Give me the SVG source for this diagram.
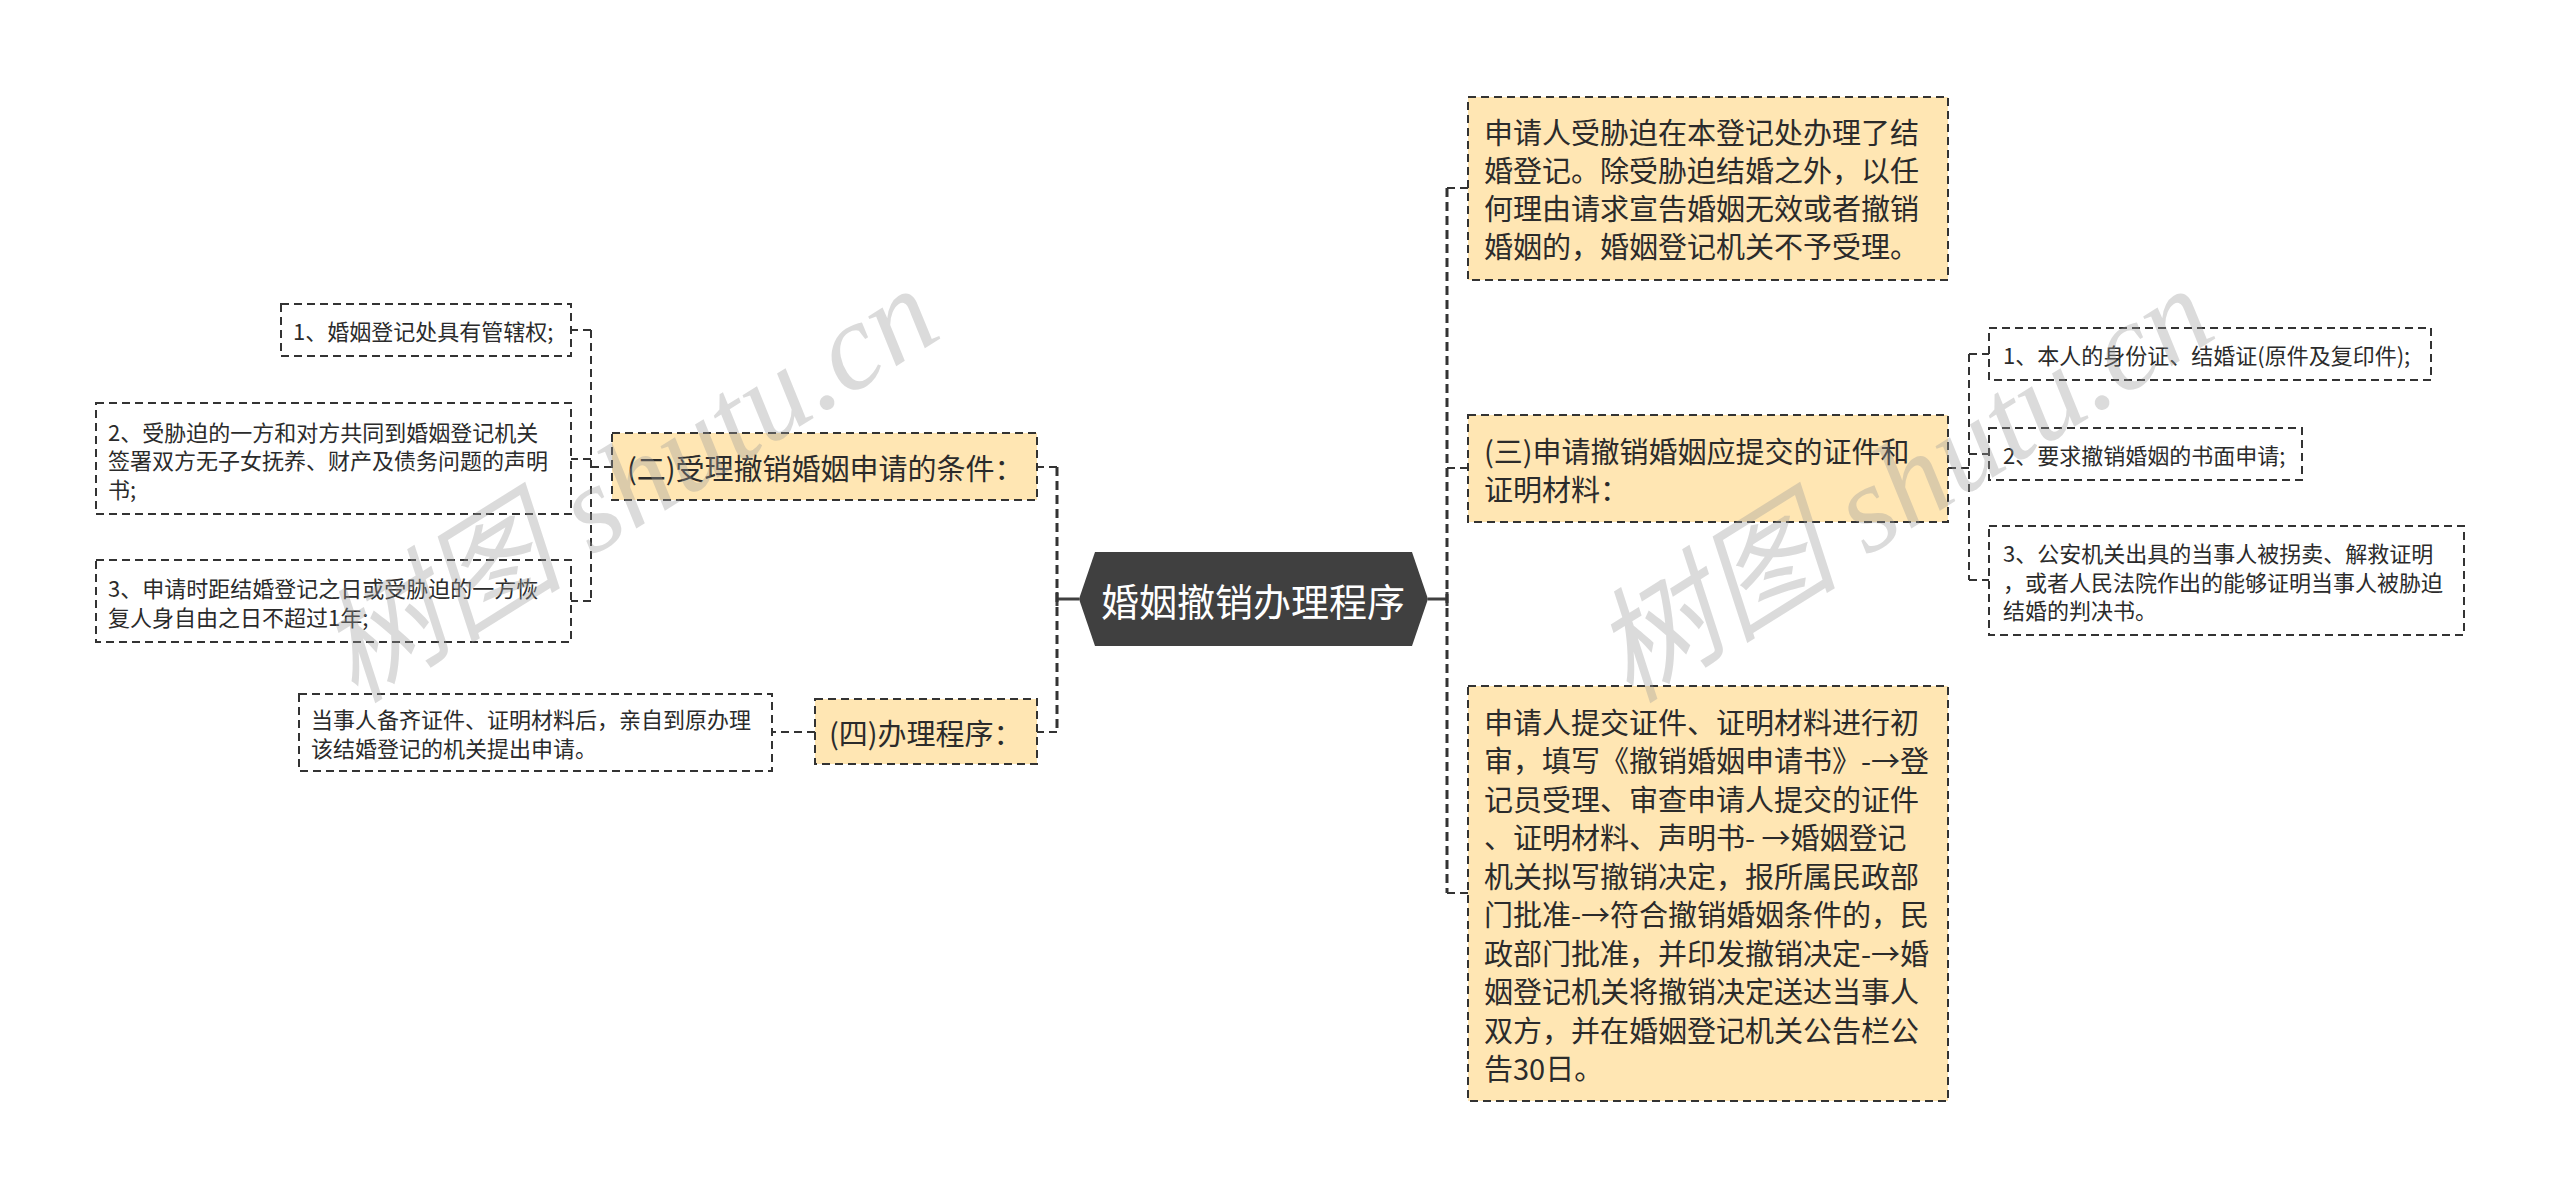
<svg xmlns="http://www.w3.org/2000/svg" width="2560" height="1198" viewBox="0 0 2560 1198">
<style>
.bg{fill:#ffffff}
.box{stroke:#333333;stroke-width:2;stroke-dasharray:8 5}
.y{fill:#FFE6B3}
.w{fill:#ffffff}
.t{font-family:"Noto Sans CJK SC","Noto Sans",sans-serif;fill:#2b2b2b;dominant-baseline:central}
.lg{font-size:29px}
.sm{font-size:22px}
.root{font-family:"Noto Sans CJK SC","Noto Sans",sans-serif;font-size:38px;fill:#ffffff;dominant-baseline:central;text-anchor:middle}
.c{fill:none;stroke:#333333;stroke-width:2;stroke-dasharray:8 5}
.c3{fill:none;stroke:#333333;stroke-width:3;stroke-dasharray:9 5}
.s{fill:none;stroke:#404040;stroke-width:3}
.wm{font-family:"Liberation Serif","Noto Sans CJK SC",serif;font-style:italic;font-size:124px;fill:#9a9a9a;opacity:0.35}
</style>
<rect class="bg" x="0" y="0" width="2560" height="1198"/>
<g id="connectors">
  <path class="s" d="M1079,599 H1057 M1057,592 V606"/>
  <path class="c3" d="M1057,467 V732"/>
  <path class="c" d="M1057,467 H1037 M1057,732 H1037"/>
  <path class="s" d="M1428,599 H1447 M1447,592 V606"/>
  <path class="c3" d="M1447,188 V893"/>
  <path class="c" d="M1447,188 H1468 M1447,468 H1468 M1447,893 H1468"/>
  <path class="c" d="M612,467 H591 M591,330 V601 M591,330 H571 M591,459 H571 M591,601 H571"/>
  <path class="c" d="M815,732 H772"/>
  <path class="c" d="M1948,468 H1969 M1969,354 V580 M1969,354 H1989 M1969,454 H1989 M1969,580 H1989"/>
</g>
<g id="root">
  <polygon points="1079,599 1095,552 1412,552 1428,599 1412,646 1095,646" fill="#404040"/>
  <text class="root" x="1253" y="599">婚姻撤销办理程序</text>
</g>
<g id="n2">
  <rect class="box y" x="612" y="433" width="425" height="67"/>
  <text class="t lg" x="627" y="467">(二)受理撤销婚姻申请的条件：</text>
</g>
<g id="n2c1">
  <rect class="box w" x="281" y="304" width="290" height="52"/>
  <text class="t sm" x="293" y="330">1、婚姻登记处具有管辖权;</text>
</g>
<g id="n2c2">
  <rect class="box w" x="96" y="403" width="475" height="111"/>
  <text class="t sm" x="108" y="431">2、受胁迫的一方和对方共同到婚姻登记机关</text>
  <text class="t sm" x="108" y="459">签署双方无子女抚养、财产及债务问题的声明</text>
  <text class="t sm" x="108" y="488">书;</text>
</g>
<g id="n2c3">
  <rect class="box w" x="96" y="560" width="475" height="82"/>
  <text class="t sm" x="108" y="587">3、申请时距结婚登记之日或受胁迫的一方恢</text>
  <text class="t sm" x="108" y="616">复人身自由之日不超过1年;</text>
</g>
<g id="n4">
  <rect class="box y" x="815" y="699" width="222" height="65"/>
  <text class="t lg" x="829" y="732">(四)办理程序：</text>
</g>
<g id="n4c1">
  <rect class="box w" x="299" y="694" width="473" height="77"/>
  <text class="t sm" x="311" y="718">当事人备齐证件、证明材料后，亲自到原办理</text>
  <text class="t sm" x="311" y="747">该结婚登记的机关提出申请。</text>
</g>
<g id="nA">
  <rect class="box y" x="1468" y="97" width="480" height="183"/>
  <text class="t lg" x="1484" y="131">申请人受胁迫在本登记处办理了结</text>
  <text class="t lg" x="1484" y="169">婚登记。除受胁迫结婚之外，以任</text>
  <text class="t lg" x="1484" y="207">何理由请求宣告婚姻无效或者撤销</text>
  <text class="t lg" x="1484" y="245">婚姻的，婚姻登记机关不予受理。</text>
</g>
<g id="n3">
  <rect class="box y" x="1468" y="415" width="480" height="107"/>
  <text class="t lg" x="1484" y="450">(三)申请撤销婚姻应提交的证件和</text>
  <text class="t lg" x="1484" y="488">证明材料：</text>
</g>
<g id="n3c1">
  <rect class="box w" x="1989" y="328" width="442" height="52"/>
  <text class="t sm" x="2003" y="354">1、本人的身份证、结婚证(原件及复印件);</text>
</g>
<g id="n3c2">
  <rect class="box w" x="1989" y="428" width="313" height="52"/>
  <text class="t sm" x="2003" y="454">2、要求撤销婚姻的书面申请;</text>
</g>
<g id="n3c3">
  <rect class="box w" x="1989" y="526" width="475" height="109"/>
  <text class="t sm" x="2003" y="552">3、公安机关出具的当事人被拐卖、解救证明</text>
  <text class="t sm" x="2003" y="581">，或者人民法院作出的能够证明当事人被胁迫</text>
  <text class="t sm" x="2003" y="609">结婚的判决书。</text>
</g>
<g id="nC">
  <rect class="box y" x="1468" y="686" width="480" height="415"/>
  <text class="t lg" x="1484" y="721">申请人提交证件、证明材料进行初</text>
  <text class="t lg" x="1484" y="759">审，填写《撤销婚姻申请书》-→登</text>
  <text class="t lg" x="1484" y="798">记员受理、审查申请人提交的证件</text>
  <text class="t lg" x="1484" y="836">、证明材料、声明书- →婚姻登记</text>
  <text class="t lg" x="1484" y="875">机关拟写撤销决定，报所属民政部</text>
  <text class="t lg" x="1484" y="913">门批准-→符合撤销婚姻条件的，民</text>
  <text class="t lg" x="1484" y="952">政部门批准，并印发撤销决定-→婚</text>
  <text class="t lg" x="1484" y="990">姻登记机关将撤销决定送达当事人</text>
  <text class="t lg" x="1484" y="1029">双方，并在婚姻登记机关公告栏公</text>
  <text class="t lg" x="1484" y="1067">告30日。</text>
</g>
<g id="watermark">
  <text class="wm" x="650" y="520" text-anchor="middle" transform="rotate(-32 650 520)">树图 shutu.cn</text>
  <text class="wm" x="1925" y="520" text-anchor="middle" transform="rotate(-32 1925 520)">树图 shutu.cn</text>
</g>
</svg>
